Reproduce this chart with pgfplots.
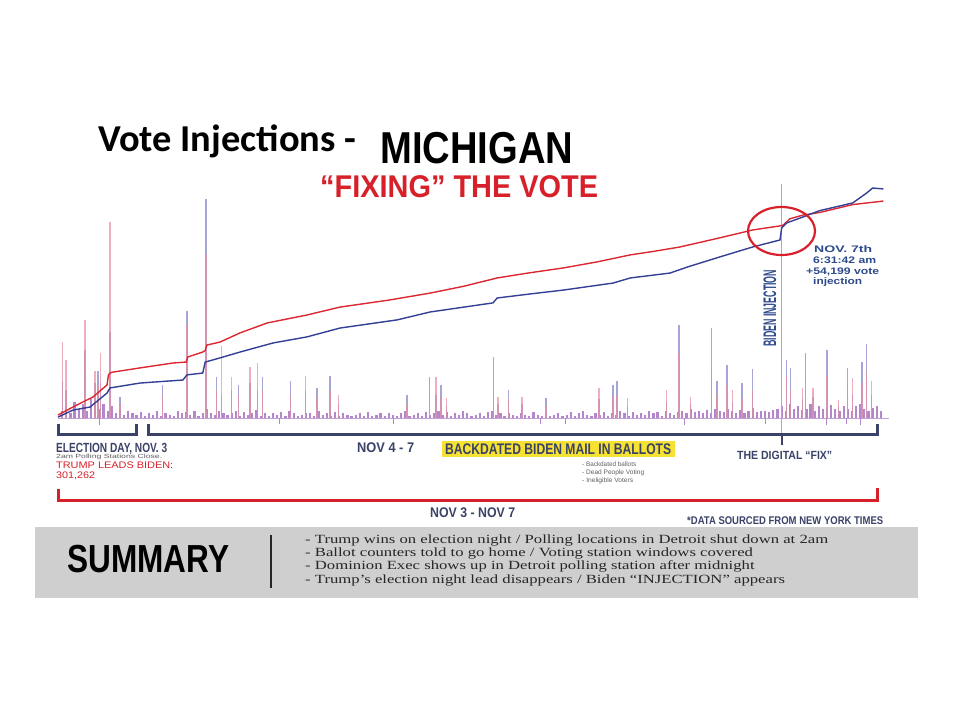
\documentclass[border=0pt]{standalone}
\usepackage{pgfplots}
\pgfplotsset{compat=1.18}
\usepackage{graphicx}
\usepackage{fontspec}
\setmainfont{Liberation Sans}
\newfontfamily\carlito{Carlito}
\newfontfamily\tnr{Liberation Serif}
\definecolor{repred}{RGB}{220,40,50}
\definecolor{demblue}{RGB}{52,64,150}
\definecolor{titlered}{RGB}{216,32,42}
\definecolor{navy}{RGB}{58,66,104}
\definecolor{annblue}{RGB}{45,74,140}
\definecolor{spikepink}{RGB}{232,140,160}
\definecolor{spikeblue}{RGB}{150,150,210}
\definecolor{bandpurple}{RGB}{180,135,205}
\definecolor{boxgray}{RGB}{207,207,207}
\definecolor{hiyellow}{RGB}{246,226,50}
\definecolor{injline}{RGB}{160,172,215}
\definecolor{smallgray}{RGB}{95,95,95}
\newsavebox\fitbox
\newcommand\fitw[2]{\sbox\fitbox{#2}\pgfmathsetmacro\fitsx{#1/\the\wd\fitbox}\scalebox{\fitsx}[1]{\usebox\fitbox}}
\newcommand\cond[3]{\pgfmathsetmacro\cfs{#1/0.716}\fitw{#2pt}{\fontsize{\cfs pt}{\cfs pt}\selectfont\bfseries #3}}
\newcommand\sumfont{\tnr\fontsize{12.5pt}{12.5pt}\selectfont}
\begin{document}
\sbox\fitbox{\sumfont - Trump wins on election night / Polling locations in Detroit shut down at 2am}%
\pgfmathsetmacro\sumsx{523pt/\the\wd\fitbox}%
\begin{tikzpicture}
\fill[white] (0,0) rectangle (960pt,720pt);
\begin{axis}[at={(58pt,302pt)},anchor=south west,scale only axis,width=827pt,height=233pt,
  xmin=0,xmax=100,ymin=0,ymax=100,hide axis,clip=false]
\draw[bandpurple!80,line width=0.8pt] (axis cs:0,0) -- (axis cs:100.5,0);
% small counts band
\addplot[ycomb,bandpurple,line width=2.2pt,mark=none] coordinates {
(0.5,3)(1,5)(1.5,2)(2,7)(2.5,4)(3,6)(3.5,3)(4,8)(4.5,5)(5,4)
(5.5,6)(6,3)(6.5,5)(7,2)(7.5,4)(8,1.5)(8.5,3)(9,2)(9.5,1.5)(10,2.5)
(10.5,1)(11,2)(11.5,1.5)(12,3)(12.5,1)(13,2)(13.5,1.5)(14,1)(14.5,3)(15,2)
(15.5,2.5)(16,1.5)(16.5,3)(17,1)(17.5,2)(18,4)(18.5,2)(19,1.5)(19.5,3)(20,2)
(20.5,1.5)(21,2)(21.5,3)(22,1)(22.5,2.5)(23,1.5)(23.5,2)(24,3.5)(24.5,1)(25,2)
(25.5,1)(26,2)(26.5,1.5)(27,2.5)(27.5,1)(28,3)(28.5,2)(29,1)(29.5,1.5)(30,2)
(30.5,2)(31,1)(31.5,3)(32,1.5)(32.5,2)(33,1)(33.5,2.5)(34,1)(34.5,2)(35,1.5)
(35.5,1)(36,1.5)(36.5,2)(37,1)(37.5,2.5)(38,1)(38.5,1.5)(39,2)(39.5,1)(40,2)
(40.5,1.5)(41,1)(41.5,2)(42,3)(42.5,1)(43,1.5)(43.5,2)(44,1)(44.5,2.5)(45,1.5)
(45.5,2)(46,3)(46.5,1.5)(47,2.5)(47.5,1)(48,2)(48.5,1.5)(49,3)(49.5,2)(50,1)
(50.5,1.5)(51,2)(51.5,1)(52,2.5)(52.5,3)(53,1.5)(53.5,2)(54,1)(54.5,2)(55,1.5)
(55.5,1)(56,2)(56.5,1.5)(57,1)(57.5,2.5)(58,1.5)(58.5,1)(59,2)(59.5,1)(60,1.5)
(60.5,2)(61,1)(61.5,1.5)(62,2.5)(62.5,1)(63,2)(63.5,3)(64,1.5)(64.5,1)(65,2)
(65.5,1.5)(66,2.5)(66.5,1)(67,2)(67.5,1.5)(68,3)(68.5,2)(69,1)(69.5,2.5)(70,1.5)
(70.5,2)(71,1.5)(71.5,3)(72,2)(72.5,2.5)(73,1)(73.5,3)(74,2)(74.5,1.5)(75,2.5)
(75.5,3)(76,2)(76.5,4)(77,2.5)(77.5,3)(78,2)(78.5,3.5)(79,2)(79.5,4)(80,3)
(80.5,2.5)(81,4)(81.5,3)(82,2)(82.5,3.5)(83,2)(83.5,3)(84,4.5)(84.5,2.5)(85,3)
(85.5,3)(86,2.5)(86.5,3.5)(87,4)(87.5,5)(88,3)(88.5,6)(89,4)(89.5,5)(90,3.5)
(90.5,4)(91,6)(91.5,3)(92,5)(92.5,4)(93,3)(93.5,5.5)(94,4)(94.5,3)(95,5)
(95.5,4)(96,3)(96.5,5)(97,6)(97.5,4)(98,3)(98.5,4.5)(99,5)(99.5,3)};
% negative ticks
\addplot[ycomb,bandpurple,line width=0.8pt,mark=none] coordinates {
(4.96,-3)(26.8,-2.5)(40.5,-2.5)(58.3,-2.5)(61.4,-2.5)(75.8,-3)(85.5,-2.5)(92.9,-3)(95.3,-2.5)(97,-3)};
% large spikes, blue component
\addplot[ycomb,spikeblue,opacity=0.85,line width=1.3pt,mark=none] coordinates {
(0.57,16)(0.97,12)(3.26,29)(4.47,15)(4.84,20)(5.16,15)(6.29,37)(7.5,9)(12.6,14)(15.6,46)
(17.9,94)(19.2,17.5)(19.8,10)(21.0,12)(21.8,14)(23.2,15)(24.1,12)(24.7,17.5)(28.1,16)(29.9,12)
(31.3,13)(32.9,18)(33.9,6)(42.2,10)(44.9,17.5)(45.7,10)(46.3,14)(47.0,5)(52.7,26)(53.2,6)
(54.5,12)(56.1,6)(59.0,8.6)(65.4,8)(67.1,14)(67.6,16)(68.9,5)(73.6,7)(75.1,40)(76.5,6)
(79.0,38.6)(79.7,16)(80.9,22.7)(81.6,7)(82.7,15)(84.0,21)(88.1,25)(88.6,21.5)(90.0,8)(90.4,28)
(91.3,9)(93.0,29)(94.4,5)(95.5,21.5)(96.1,10)(97.2,24)(97.8,31.7)(98.4,10)};
% large spikes, red component
\addplot[ycomb,spikepink,opacity=0.7,line width=1.3pt,mark=none] coordinates {
(0.57,32.6)(0.97,25)(3.26,42)(4.47,20)(4.84,14)(5.16,28)(6.29,84)(7.5,6)(12.6,10)(15.6,40)
(17.9,70)(19.2,12)(19.8,31)(21.0,17.5)(21.8,10)(23.2,22)(24.1,23.6)(24.7,12)(28.1,10)(29.9,18)
(31.3,9)(32.9,12)(33.9,10)(42.2,6)(44.9,12)(45.7,17.5)(46.3,9)(47.0,8.6)(52.7,10)(53.2,9)
(54.5,8)(56.1,9)(59.0,5)(65.4,13)(67.1,9)(67.6,10)(68.9,8.6)(73.6,12)(75.1,28)(76.5,9)
(79.0,20)(79.7,10)(80.9,14)(81.6,12)(82.7,8)(84.0,12)(88.1,18)(88.6,12)(90.0,13)(90.4,18)
(91.3,13)(93.0,18)(94.4,7.7)(95.5,14)(96.1,17)(97.2,15)(97.8,20)(98.4,16)};
% injection marker line
\addplot[injline,line width=1pt,mark=none] coordinates {(87.5,-7.3)(87.5,100.5)};
% cumulative Trump
\addplot[repred,line width=1.4pt,mark=none] coordinates {
(0,1.3)(1.81,4.7)(3.02,6.9)(4.23,9.0)(5.93,14.2)(6.1,18.5)(6.29,19.3)(6.65,19.7)(9.92,21.5)(13.9,23.6)
(15.5,24.0)(15.7,26.2)(17.5,28.3)(17.8,29)(18.0,31.3)(19.6,32.6)(22.0,36.5)(25.3,40.8)(30.1,44.2)(34.1,47.6)
(40,50.6)(45.0,53.6)(49,56.5)(53.1,60.1)(57,62.3)(61.1,64.4)(65.2,67.0)(69.2,70.0)(72,71.5)(75.2,73.4)
(80.0,77.3)(84.0,80.7)(87.4,82.5)(87.7,82.8)(88.5,85.5)(90.1,87.1)(92.1,88.2)(96.1,91.6)(99.8,93.1)};
% cumulative Biden
\addplot[demblue,line width=1.4pt,mark=none] coordinates {
(0,0.4)(1.81,3.4)(3.87,4.7)(5.93,10.7)(6.29,12.9)(9.92,15.0)(15.1,16.3)(15.6,18.5)(17.5,19.3)(17.8,24.0)
(19.6,25.8)(22.0,28.3)(26.0,32.2)(30.1,34.8)(34.1,38.6)(41.0,42.1)(45.0,45.5)(52.6,49.4)(53.1,51.5)(57,53.2)
(61.1,54.9)(67.1,57.9)(69.2,60.1)(74.0,62.2)(76.1,64.8)(80.0,69.1)(84.0,73.4)(87.3,76.4)(87.5,81.5)(88.1,83.7)
(90.1,86.3)(92.1,89.0)(96.1,92.3)(97.8,96.6)(98.5,98.7)(99.8,98.3)};
\end{axis}
\begin{scope}[yshift=720pt,x=1pt,y=-1pt]
% titles
\node[anchor=base west,inner sep=0] at (98,152) {\fitw{258pt}{\carlito\bfseries\fontsize{38pt}{38pt}\selectfont Vote Injections -}};
\node[anchor=base west,inner sep=0] at (380,164) {\cond{32}{193}{MICHIGAN}};
\node[anchor=base west,inner sep=0,text=titlered] at (320,198) {\cond{22.5}{278}{“FIXING” THE VOTE}};
% circle and annotation
\draw[titlered,line width=2.2pt] (781.5,231) ellipse [x radius=33.5pt,y radius=24pt];
\node[rotate=90,anchor=base west,inner sep=0,text=annblue] at (776,347) {\cond{13}{77}{BIDEN INJECTION}};
\node[anchor=base west,inner sep=0,text=annblue] at (814,253) {\fitw{58pt}{\fontsize{9.5pt}{9.5pt}\selectfont\bfseries NOV. 7th}};
\node[anchor=base west,inner sep=0,text=annblue] at (813,264) {\fitw{63pt}{\fontsize{9.5pt}{9.5pt}\selectfont\bfseries 6:31:42 am}};
\node[anchor=base west,inner sep=0,text=annblue] at (806,275) {\fitw{73pt}{\fontsize{9.5pt}{9.5pt}\selectfont\bfseries +54,199 vote}};
\node[anchor=base west,inner sep=0,text=annblue] at (813,284.5) {\fitw{49pt}{\fontsize{9.5pt}{9.5pt}\selectfont\bfseries injection}};
% brackets
\draw[navy,line width=3pt] (58.5,424) -- (58.5,435) -- (136.5,435) -- (136.5,424);
\draw[navy,line width=3pt] (148,424) -- (148,435) -- (877,435) -- (877,424);
\draw[navy,line width=1.5pt] (782,435) -- (782,445);
\draw[titlered,line width=3pt] (58.5,489) -- (58.5,501) -- (877,501) -- (877,488);
% bracket labels
\node[anchor=base west,inner sep=0,text=navy] at (56,453) {\cond{9.5}{111}{ELECTION DAY, NOV. 3}};
\node[anchor=base west,inner sep=0,text=smallgray] at (56,459) {\fitw{106pt}{\fontsize{6pt}{6pt}\selectfont 2am Polling Stations Close.}};
\node[anchor=base west,inner sep=0,text=titlered] at (56,468.5) {\fitw{117pt}{\fontsize{9.5pt}{9.5pt}\selectfont TRUMP LEADS BIDEN:}};
\node[anchor=base west,inner sep=0,text=titlered] at (56,478.5) {\fitw{39pt}{\fontsize{9.5pt}{9.5pt}\selectfont 301,262}};
\node[anchor=base west,inner sep=0,text=navy] at (357,453) {\cond{10}{57}{NOV 4 - 7}};
\fill[hiyellow] (442,441) rectangle (675,457);
\node[anchor=base west,inner sep=0,text=navy] at (445,455) {\cond{11}{226}{BACKDATED BIDEN MAIL IN BALLOTS}};
\node[anchor=base west,inner sep=0,text=smallgray] at (582,467) {\fitw{54pt}{\fontsize{6.5pt}{6.5pt}\selectfont - Backdated ballots}};
\node[anchor=base west,inner sep=0,text=smallgray] at (582,475) {\fitw{62pt}{\fontsize{6.5pt}{6.5pt}\selectfont - Dead People Voting}};
\node[anchor=base west,inner sep=0,text=smallgray] at (582,483) {\fitw{51pt}{\fontsize{6.5pt}{6.5pt}\selectfont - Ineligible Voters}};
\node[anchor=base west,inner sep=0,text=navy] at (737,460) {\cond{8.5}{95}{THE DIGITAL “FIX”}};
\node[anchor=base west,inner sep=0,text=navy] at (430,518) {\cond{10}{85}{NOV 3 - NOV 7}};
\node[anchor=base west,inner sep=0,text=navy] at (687,525) {\cond{8}{196}{*DATA SOURCED FROM NEW YORK TIMES}};
% summary box
\fill[boxgray] (35,527) rectangle (918,598);
\node[anchor=base west,inner sep=0,text=black] at (67,573) {\cond{28}{162}{SUMMARY}};
\draw[black!85,line width=1.3pt] (271,535) -- (271,588);
\node[anchor=base west,inner sep=0,text=black!85] at (305,544) {\scalebox{\sumsx}[1]{\sumfont - Trump wins on election night / Polling locations in Detroit shut down at 2am}};
\node[anchor=base west,inner sep=0,text=black!85] at (305,557) {\scalebox{\sumsx}[1]{\sumfont - Ballot counters told to go home / Voting station windows covered}};
\node[anchor=base west,inner sep=0,text=black!85] at (305,570) {\scalebox{\sumsx}[1]{\sumfont - Dominion Exec shows up in Detroit polling station after midnight}};
\node[anchor=base west,inner sep=0,text=black!85] at (305,583) {\scalebox{\sumsx}[1]{\sumfont - Trump’s election night lead disappears / Biden “INJECTION” appears}};
\end{scope}
\end{tikzpicture}
\end{document}
